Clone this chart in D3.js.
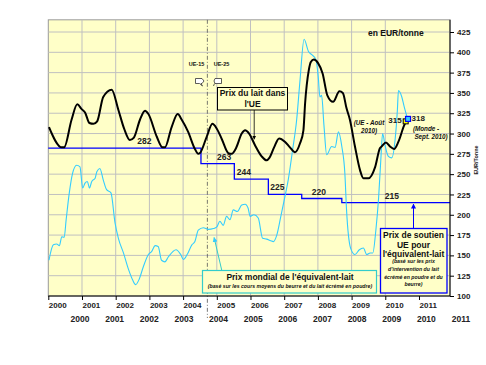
<!DOCTYPE html>
<html><head><meta charset="utf-8">
<script src="https://cdn.jsdelivr.net/npm/d3@7"></script>
<style>
html,body{margin:0;padding:0;background:#fff;}
svg{display:block;font-family:"Liberation Sans",Arial,sans-serif;}
</style></head>
<body><svg id="c" width="486" height="365"></svg>
<script>
// ---------- DATA ----------
const xTickYears = [2000,2001,2002,2003,2004,2005,2006,2007,2008,2009,2010,2011];
const xTickLabels2 = ["2000","2001","2002","2003","2004","2005","2006","2007","2008","2009","2010","2011"];
const yTicks = [100,125,150,175,200,225,250,275,300,325,350,375,400,425];

// EU milk price (EUR/tonne)
const euT = [2000.02,2000.40,2000.47,2000.69,2000.86,2000.99,2001.09,2001.22,2001.34,2001.45,2001.63,2001.88,
  2002.08,2002.25,2002.42,2002.54,2002.72,2002.87,2002.97,2003.22,2003.39,2003.46,2003.66,2003.84,2003.96,
  2004.15,2004.35,2004.45,2004.50,2004.70,2004.87,2005.00,2005.15,2005.34,2005.44,2005.57,2005.74,2005.84,
  2005.96,2006.13,2006.33,2006.48,2006.56,2006.70,2006.85,2007.02,2007.17,2007.32,2007.47,2007.57,2007.62,
  2007.73,2007.79,2007.88,2008.00,2008.14,2008.28,2008.45,2008.64,2008.74,2008.85,2008.95,2009.10,2009.25,
  2009.35,2009.50,2009.70,2009.84,2009.89,2010.02,2010.14,2010.26,2010.39,2010.56,2010.62];
const euV = [308,283,283,317,336,330,326,313,312,315,345,354,
  329,306,292,295,317,328,324,296,283,283,308,324,317,
  302,281,275,276,296,312,306,293,276,275,282,300,304,
  300,286,272,267,270,283,294,290,283,277,288,304,337,
  378,388,391,387,374,347,339,352,350,331,317,284,255,
  245,245,259,282,284,289,284,281,290,310,315];

// World price of milk equivalent (EUR/tonne)
const wT = [2000.02,2000.15,2000.25,2000.33,2000.40,2000.47,2000.53,2000.62,2000.72,2000.84,2000.94,2001.02,
  2001.09,2001.16,2001.22,2001.29,2001.39,2001.44,2001.53,2001.63,2001.73,2001.86,2001.98,2002.08,2002.23,
  2002.37,2002.50,2002.59,2002.70,2002.82,2002.97,2003.07,2003.17,2003.26,2003.36,2003.46,2003.56,2003.79,
  2003.93,2004.01,2004.12,2004.26,2004.35,2004.45,2004.60,2004.75,2004.90,2005.00,2005.09,2005.19,2005.29,
  2005.39,2005.49,2005.61,2005.74,2005.84,2005.93,2005.99,2006.10,2006.23,2006.36,2006.48,2006.60,2006.68,
  2006.78,2006.90,2007.02,2007.12,2007.25,2007.37,2007.47,2007.59,2007.72,2007.82,2007.94,2008.01,2008.06,
  2008.11,2008.18,2008.26,2008.41,2008.51,2008.61,2008.71,2008.80,2008.85,2008.97,2009.10,2009.23,2009.35,
  2009.45,2009.55,2009.63,2009.72,2009.80,2009.87,2009.92,2009.99,2010.09,2010.19,2010.29,2010.36,2010.39,
  2010.49,2010.56,2010.66];
const wV = [144,163,164,162,173,172,194,226,251,261,259,233,
  239,241,233,241,245,253,257,243,231,227,190,171,153,
  134,120,114,121,136,151,155,162,161,144,142,148,157,
  151,145,151,163,167,181,184,182,183,185,192,187,198,
  194,206,204,212,213,208,198,200,196,171,170,168,167,
  175,198,222,243,280,317,366,416,401,397,391,370,345,
  347,310,274,284,283,302,284,251,206,159,151,157,159,
  151,153,153,181,220,270,300,286,272,270,292,330,353,
  345,333,318];

// EU support price for milk equivalent
const supT = [2000.0,2004.53,2005.52,2006.53,2007.52,2008.71,2011.92];
const supV = [282,263,244,225,220,215,215];

// ---------- CHART ----------
const svg = d3.select("#c");
const x = d3.scaleLinear().domain([2000, 2011.92]).range([48.3, 450]);
const y = d3.scaleLinear().domain([100, 425]).range([296, 32]);
const X0 = x(2000), X1 = x(2011.92), Y0 = y(100), YT = y(440);

// plot area
svg.append("rect").attr("x",X0).attr("y",YT).attr("width",X1-X0).attr("height",Y0-YT)
  .attr("fill","#ffffc8").attr("stroke","#9a9a9a").attr("stroke-width",1);

// grid
const g = svg.append("g");
g.selectAll("line.h").data(yTicks.filter(v=>v>100)).join("line")
  .attr("x1",X0).attr("x2",X1).attr("y1",d=>y(d)).attr("y2",d=>y(d))
  .attr("stroke","#c0c0c0").attr("stroke-width",1);
g.selectAll("line.v").data(xTickYears.filter(v=>v>2000 && v<2011)).join("line")
  .attr("x1",d=>x(d)).attr("x2",d=>x(d)).attr("y1",YT).attr("y2",Y0)
  .attr("stroke","#c0c0c0").attr("stroke-width",1);

// enlargement dashed line
svg.append("line").attr("x1",x(2004.72)).attr("x2",x(2004.72)).attr("y1",YT).attr("y2",Y0+22)
  .attr("stroke","#555").attr("stroke-width",0.8).attr("stroke-dasharray","4,2,1,2");

// markers
const defs = svg.append("defs");
function mk(id,col){
  defs.append("marker").attr("id",id).attr("viewBox","0 0 10 10").attr("refX",9).attr("refY",5)
   .attr("markerWidth",5).attr("markerHeight",5).attr("orient","auto-start-reverse")
   .append("path").attr("d","M0,0L10,5L0,10z").attr("fill",col);
}
mk("aBlk","#000"); mk("aBlu","#0000ff"); mk("aCy","#33ccff");

// series
const line = d3.line().x(d=>x(d[0])).y(d=>y(d[1]));
const stepLine = d3.line().x(d=>x(d[0])).y(d=>y(d[1])).curve(d3.curveStepAfter);
svg.append("path").datum(supT.map((t,i)=>[t,supV[i]])).attr("d",stepLine)
  .attr("fill","none").attr("stroke","#0000ff").attr("stroke-width",1.3);
svg.append("path").datum(wT.map((t,i)=>[t,wV[i]])).attr("d",line.curve(d3.curveMonotoneX))
  .attr("fill","none").attr("stroke","#33ccff").attr("stroke-width",1.1);
svg.append("path").datum(euT.map((t,i)=>[t,euV[i]])).attr("d",d3.line().x(d=>x(d[0])).y(d=>y(d[1])).curve(d3.curveMonotoneX))
  .attr("fill","none").attr("stroke","#000").attr("stroke-width",2).attr("stroke-linejoin","round");

// support price labels
const supLabelDx = [89, 16, 2.5, 2, 10, 43];
svg.selectAll("text.sup").data(supV.slice(0,6)).join("text")
  .attr("x",(d,i)=>x(supT[i])+supLabelDx[i]).attr("y",d=>y(d)-4)
  .attr("font-size",8.5).attr("font-weight","bold").attr("fill","#222").text(d=>d);

// end markers
const euLast = [euT[euT.length-1], euV[euV.length-1]];
const wLast = [wT[wT.length-1], wV[wV.length-1]];
svg.append("rect").attr("x",x(euLast[0])-3).attr("y",y(euLast[1])-2.5).attr("width",5).attr("height",5)
  .attr("fill","#ffff00").attr("stroke","#000").attr("stroke-width",1);
svg.append("rect").attr("x",x(wLast[0])-2).attr("y",y(wLast[1])-2.5).attr("width",5).attr("height",5)
  .attr("fill","#33ccff").attr("stroke","#0000ff").attr("stroke-width",1.2);
svg.append("text").attr("x",x(euLast[0])-4.5).attr("y",y(euLast[1])+2).attr("text-anchor","end")
  .attr("font-size",8).attr("font-weight","bold").attr("fill","#222").text(euLast[1]);
svg.append("text").attr("x",x(wLast[0])+4).attr("y",y(wLast[1])+2)
  .attr("font-size",8).attr("font-weight","bold").attr("fill","#222").text(wLast[1]);

// right axis
const ay = svg.append("g").attr("transform",`translate(${X1},0)`)
  .call(d3.axisRight(y).tickValues(yTicks).tickSize(4).tickPadding(3));
ay.select(".domain").remove();
ay.append("line").attr("x1",0).attr("x2",0).attr("y1",YT).attr("y2",Y0).attr("stroke","#000");
ay.selectAll("text").attr("font-size",8).attr("font-weight","bold").attr("fill","#222")
  .attr("font-family","Liberation Sans, Arial, sans-serif");

// bottom axis row 1
const ax = svg.append("g").attr("transform",`translate(0,${Y0})`)
  .call(d3.axisBottom(x).tickValues(xTickYears).tickSize(4).tickFormat(d3.format("d")));
ax.select(".domain").attr("d",`M${X0},0H${X1}`).attr("stroke","#000").attr("stroke-width",1.2);
ax.selectAll("text").attr("text-anchor","start").attr("dy",0).attr("y",12).attr("x",0)
  .attr("font-size",8).attr("font-weight","bold").attr("fill","#222")
  .attr("font-family","Liberation Sans, Arial, sans-serif");

// bottom row 2
const x2 = d3.scaleLinear().domain([2000,2011]).range([79.5,460.5]);
const ax2 = svg.append("g").attr("transform",`translate(0,${Y0})`)
  .call(d3.axisBottom(x2).tickValues(xTickYears).tickSize(0).tickFormat((d,i)=>xTickLabels2[i]));
ax2.select(".domain").remove();
ax2.selectAll("text").attr("dy",0).attr("y",25.5)
  .attr("font-size",8.5).attr("font-weight","bold").attr("fill","#222")
  .attr("font-family","Liberation Sans, Arial, sans-serif");

// ---------- ANNOTATIONS ----------
const t = (s,xx,yy,opt={}) => svg.append("text").attr("x",xx).attr("y",yy)
  .attr("font-size",opt.fs||8.5).attr("font-weight",opt.fw||"bold").attr("font-style",opt.it?"italic":"normal")
  .attr("text-anchor",opt.a||"start").attr("fill",opt.c||"#111").text(s);

t("en EUR/tonne", 368, 36, {fs:8.5, fw:"bold"});
t("UE-15", 196.5, 66, {fs:5.5, a:"middle"});
t("UE-25", 221.5, 66, {fs:5.5, a:"middle"});
// small flag callouts
svg.append("path").attr("d","M195.5,78.5h6.5l2,2.5l-2,2.5h-1l1.5,2.5l-3,-2.5h-4z")
  .attr("fill","#fff").attr("stroke","#333").attr("stroke-width",0.8);
svg.append("path").attr("d","M221.5,78.5h-6.5l-1,2.5l1,2.5h6.5z M214.5,83.5l-1,2.5")
  .attr("fill","#fff").attr("stroke","#333").attr("stroke-width",0.8);

// EU price box
svg.append("rect").attr("x",217.5).attr("y",87.5).attr("width",70).attr("height",22.5)
  .attr("fill","#ffffc8").attr("stroke","#000").attr("stroke-width",1);
t("Prix du lait dans", 252.5, 96, {fs:8.5, a:"middle"});
t("l'UE", 252.5, 106.5, {fs:8.5, a:"middle"});
svg.append("line").attr("x1",x(2006.11)).attr("x2",x(2006.11)).attr("y1",110).attr("y2",y(293))
  .attr("stroke","#000").attr("stroke-width",0.8).attr("marker-end","url(#aBlk)");

t("(UE - Août", 369, 124.5, {fs:6.3, it:true, a:"middle"});
t("2010)", 369, 132.5, {fs:6.3, it:true, a:"middle"});
t("(Monde -", 426, 131, {fs:6.3, it:true, a:"middle"});
t("Sept. 2010)", 431, 138.5, {fs:6.3, it:true, a:"middle"});

svg.append("text").attr("transform","translate(478,160) rotate(-90)").attr("text-anchor","middle")
  .attr("font-size",5.5).attr("font-weight","bold").attr("fill","#222").text("EUR/Tonne");

// support box
svg.append("rect").attr("x",380.5).attr("y",228.5).attr("width",66.5).attr("height",64.5)
  .attr("fill","#ffffc8").attr("stroke","#0000ff").attr("stroke-width",1.3);
t("Prix de soutien", 413.5, 237.5, {fs:8.5, a:"middle"});
t("UE pour", 413.5, 247.5, {fs:8.5, a:"middle"});
t("l'équivalent-lait", 413.5, 257, {fs:8.5, a:"middle"});
t("(basé  sur les prix", 413.5, 263, {fs:5.2, it:true, a:"middle"});
t("d'intervention du lait", 413.5, 271, {fs:5.2, it:true, a:"middle"});
t("écrémé en poudre et du", 413.5, 278.5, {fs:5.2, it:true, a:"middle"});
t("beurre)", 413.5, 286, {fs:5.2, it:true, a:"middle"});
svg.append("line").attr("x1",413.5).attr("x2",413.5).attr("y1",228).attr("y2",y(215)+1.5)
  .attr("stroke","#0000ff").attr("stroke-width",1).attr("marker-end","url(#aBlu)");

// world box
svg.append("rect").attr("x",202.5).attr("y",270.5).attr("width",174).attr("height",22.5)
  .attr("fill","#ffffc8").attr("stroke","#33cccc").attr("stroke-width",1.2);
t("Prix mondial de l'équivalent-lait", 290, 280, {fs:8.5, a:"middle"});
t("(basé sur les cours moyens du beurre et du lait écrémé en poudre)", 290, 288, {fs:5.2, it:true, a:"middle"});
svg.append("line").attr("x1",221.7).attr("x2",x(2004.92)).attr("y1",270).attr("y2",y(172))
  .attr("stroke","#33cccc").attr("stroke-width",1).attr("marker-end","url(#aCy)");
</script></body></html>
